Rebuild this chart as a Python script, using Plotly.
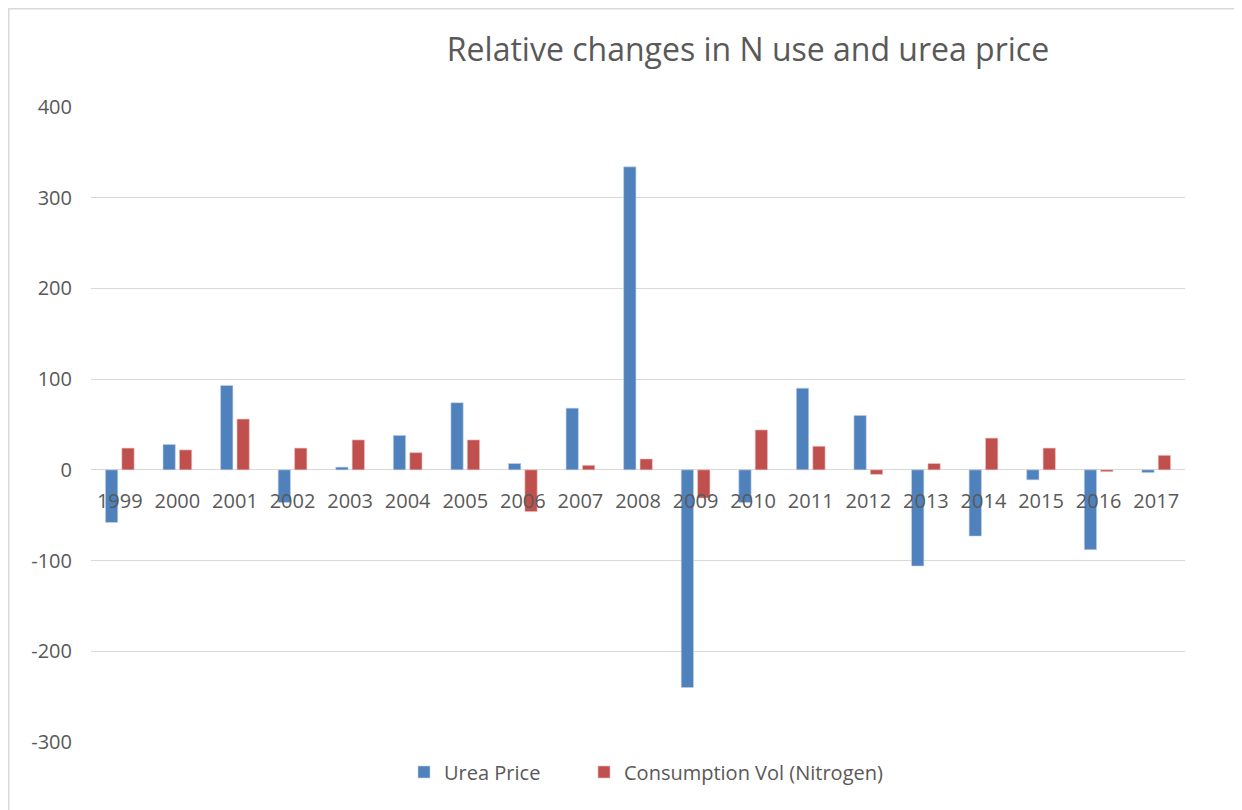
import plotly.graph_objects as go

years = ["1999","2000","2001","2002","2003","2004","2005","2006","2007","2008",
         "2009","2010","2011","2012","2013","2014","2015","2016","2017"]
urea_price = [-58, 28, 93, -36, 3, 38, 74, 7, 68, 334,
              -240, -36, 90, 60, -106, -73, -11, -88, -3]
consumption_n = [24, 22, 56, 24, 33, 19, 33, -46, 5, 12,
                 -31, 44, 26, -5, 7, 35, 24, -2, 16]
y_ticks = [400, 300, 200, 100, 0, -100, -200, -300]
y_tick_text = ["400", "300", "200", "100", "0", "-100", "-200", "-300"]

FONT = "Open Sans"
GREY = "#595959"

# page body has an 8px margin; work in reference pixel coords and shift
OFF = 8
W, H = 1242 - OFF, 810 - OFF
L, R, T, B = 91 - OFF, W - (1185 - OFF), 107 - OFF, H - (742 - OFF)
pw, ph = W - L - R, H - T - B

def px(x):
    return (x - OFF - L) / pw

def py(y):
    return (H - B - (y - OFF)) / ph

fig = go.Figure()
fig.add_trace(go.Bar(x=years, y=urea_price, name="Urea Price", legend="legend",
                     marker=dict(color="#4f81bd", line=dict(color="#c5d3e8", width=0.6))))
fig.add_trace(go.Bar(x=years, y=consumption_n, name="Consumption Vol (Nitrogen)", legend="legend2",
                     marker=dict(color="#c0504d", line=dict(color="#ecc5c4", width=0.6))))

leg_common = dict(orientation="h", yanchor="middle", xanchor="left",
                  font=dict(size=20, color=GREY, family=FONT), itemwidth=30,
                  bgcolor="rgba(0,0,0,0)", borderwidth=0)

fig.update_layout(
    width=W, height=H,
    margin=dict(l=L, r=R, t=T, b=B),
    paper_bgcolor="white", plot_bgcolor="white",
    font=dict(family=FONT, color=GREY, size=20),
    barmode="group", bargap=0.43, bargroupgap=0.25,
    title=dict(text="Relative changes in N use and urea price",
               font=dict(size=32, color=GREY, family=FONT),
               x=px(748), xref="paper", xanchor="center",
               y=1 - (50 - OFF) / H, yref="container", yanchor="middle"),
    xaxis=dict(type="category", range=[-0.5, 18.5], showgrid=False, showline=False,
               anchor="free", position=3 / 7, ticks="", ticklabelstandoff=17,
               tickfont=dict(size=20, color=GREY, family=FONT), zeroline=False),
    yaxis=dict(range=[-300, 400], tickvals=y_ticks, ticktext=y_tick_text,
               showgrid=True, gridcolor="#d9d9d9",
               gridwidth=1.3, zeroline=True, zerolinecolor="#d9d9d9", zerolinewidth=1.3,
               ticks="", ticklabelstandoff=18, showline=False,
               tickfont=dict(size=20, color=GREY, family=FONT)),
    legend=dict(x=px(417 - 13), y=py(772), **leg_common),
    legend2=dict(x=px(597 - 13), y=py(772), **leg_common),
    shapes=[dict(type="rect", xref="paper", yref="paper",
                 x0=px(OFF + 0.75), x1=px(1237.5), y0=py(840), y1=py(OFF + 0.75),
                 line=dict(color="#d9d9d9", width=1.5), fillcolor="rgba(0,0,0,0)", layer="below")],
    showlegend=True,
)

fig.write_html("out.html")
